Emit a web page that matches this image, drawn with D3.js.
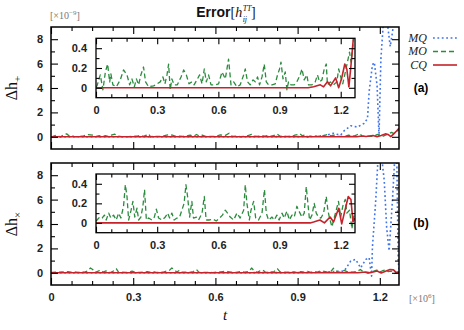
<!DOCTYPE html>
<html>
<head>
<meta charset="utf-8">
<script src="https://cdn.jsdelivr.net/npm/d3@7"></script>
<style>
  body { margin: 0; background: #fff; }
</style>
</head>
<body>
<svg id="chart" width="464" height="330"></svg>
<script>
// values, t in units of 1e6, errors in units of 1e-9
const mqTop = [[0,0],[0.5,0],[0.95,0.02],[1.0,0.1],[1.03,0.28],[1.057,0.14],[1.07,0.5],[1.094,0.9],[1.118,0.8],[1.143,1.1],[1.155,1.5],[1.161,3.7],[1.173,5.9],[1.18,6.1],[1.19,4.2],[1.197,0.06],[1.204,6.4],[1.213,9.4],[1.225,9.8],[1.238,7.4],[1.245,8.4],[1.252,9.5],[1.265,9.8],[1.27,9.5]];
const moTop = [[0,0.01],[0.005,0.02],[0.021,0.13],[0.034,-0.02],[0.046,0.16],[0.057,0.24],[0.067,0.06],[0.073,0.14],[0.083,0.03],[0.1,0.01],[0.119,0.08],[0.135,0.18],[0.152,0.13],[0.165,0.03],[0.176,0.09],[0.188,0.01],[0.198,0.09],[0.209,0.03],[0.22,0.13],[0.233,0.21],[0.243,0.06],[0.258,0.01],[0.283,0.02],[0.299,0.04],[0.315,0.06],[0.328,0.11],[0.338,0.04],[0.348,0.13],[0.356,0.24],[0.364,-0.02],[0.372,0.09],[0.383,0.03],[0.399,0.03],[0.417,0.11],[0.43,0.18],[0.443,0.13],[0.456,0.04],[0.47,0.06],[0.481,0.03],[0.495,0.08],[0.508,0.13],[0.52,0.04],[0.531,0.19],[0.541,0.06],[0.552,0.13],[0.564,0.03],[0.585,0.03],[0.601,0.04],[0.618,0.16],[0.634,0.09],[0.65,0.29],[0.662,0.03],[0.675,0.06],[0.691,0.01],[0.707,0.03],[0.724,0.13],[0.732,0.19],[0.743,0.06],[0.756,0.03],[0.77,0.08],[0.781,0.06],[0.792,0.11],[0.802,0.03],[0.814,0.11],[0.825,0.24],[0.835,0.06],[0.846,0.03],[0.863,0.03],[0.879,0.04],[0.89,0.13],[0.9,0.19],[0.907,0.26],[0.917,0.09],[0.928,0.16],[0.936,-0.02],[0.944,0.06],[0.956,0.03],[0.972,0.03],[0.985,0.06],[1.001,0.13],[1.01,0.19],[1.021,0.08],[1.034,0.13],[1.042,0.03],[1.059,0.03],[1.075,0.06],[1.086,0.13],[1.096,0.06],[1.108,0.08],[1.119,0.19],[1.129,0.24],[1.135,0.03],[1.149,0.06],[1.165,0.03],[1.181,0.06],[1.19,0.19],[1.2,0.11],[1.21,0.04],[1.23,0.23],[1.243,0.36],[1.251,0.26],[1.263,0.49],[1.27,0.55]];
const cqTop = [[0,0],[1.04,0],[1.067,0.01],[1.1,0.03],[1.116,0.01],[1.135,0.06],[1.15,0.02],[1.175,0.1],[1.19,0.0],[1.205,0.1],[1.22,0.24],[1.23,0.19],[1.24,0.01],[1.25,0.22],[1.262,0.5],[1.27,0.7]];

const mqBot = [[0,0],[0.5,0],[0.95,0.02],[1.03,0.1],[1.07,0.14],[1.094,0.97],[1.112,1.1],[1.13,0.4],[1.149,1.1],[1.161,1.24],[1.17,-0.27],[1.173,2.07],[1.185,5.9],[1.194,9.6],[1.205,9.8],[1.216,7.6],[1.225,3.7],[1.234,1.8],[1.246,5.9],[1.255,9.6],[1.262,9.4],[1.267,1.0],[1.27,0.3]];
const moBot = [[0,0.02],[0.005,0.03],[0.018,0.06],[0.03,0.05],[0.041,0.08],[0.05,0.03],[0.062,0.1],[0.073,0.05],[0.086,0.08],[0.099,0.03],[0.111,0.1],[0.122,0.05],[0.135,0.17],[0.144,0.39],[0.152,0.27],[0.16,0.03],[0.172,0.13],[0.181,0.22],[0.19,0.06],[0.201,0.15],[0.209,0.03],[0.22,0.06],[0.23,0.17],[0.238,0.34],[0.247,0.03],[0.258,0.05],[0.274,0.03],[0.286,0.06],[0.296,0.14],[0.307,0.05],[0.324,0.03],[0.34,0.06],[0.351,0.1],[0.361,0.05],[0.372,0.1],[0.383,0.03],[0.397,0.05],[0.41,0.06],[0.421,0.13],[0.432,0.2],[0.441,0.39],[0.449,0.27],[0.459,0.06],[0.47,0.22],[0.478,0.05],[0.492,0.06],[0.503,0.03],[0.52,0.1],[0.531,0.27],[0.54,0.03],[0.557,0.03],[0.573,0.04],[0.59,0.02],[0.606,0.05],[0.62,0.08],[0.634,0.13],[0.645,0.1],[0.658,0.06],[0.675,0.03],[0.691,0.1],[0.707,0.05],[0.724,0.13],[0.732,0.39],[0.74,0.2],[0.752,0.03],[0.76,0.13],[0.773,0.22],[0.783,0.05],[0.797,0.03],[0.814,0.1],[0.826,0.34],[0.835,0.1],[0.846,0.03],[0.863,0.06],[0.874,0.03],[0.887,0.08],[0.898,0.03],[0.912,0.1],[0.923,0.05],[0.936,0.12],[0.948,0.03],[0.961,0.08],[0.972,0.06],[0.985,0.17],[0.993,0.13],[1.01,0.06],[1.021,0.1],[1.031,0.37],[1.039,0.2],[1.047,0.03],[1.059,0.08],[1.07,0.2],[1.08,0.1],[1.091,0.06],[1.103,0.05],[1.116,0.1],[1.129,0.27],[1.137,0.13],[1.145,0.05],[1.157,-0.04],[1.165,0.03],[1.178,0.13],[1.189,0.22],[1.2,0.06],[1.21,0.17],[1.222,0.24],[1.23,0.1],[1.243,0.13],[1.255,-0.06],[1.263,0.06],[1.27,0.1]];
const cqBot = [[0,0],[1.05,0],[1.067,0.01],[1.098,0.03],[1.12,0],[1.148,0.06],[1.165,0.01],[1.19,0.15],[1.205,-0.01],[1.237,0.27],[1.25,0.24],[1.26,0.01],[1.27,0.05]];

const xMajor = [0, 0.3, 0.6, 0.9, 1.2];
const xMinor = [0.075, 0.15, 0.225, 0.375, 0.45, 0.525, 0.675, 0.75, 0.825, 0.975, 1.05, 1.125, 1.275];
const yMajor = [0, 2, 4, 6, 8];
const yMinor = [1, 3, 5, 7];
const inYMajor = [0, 0.2, 0.4];
const inYMinor = [0.1, 0.3];
const seriesNames = ["MQ", "MO", "CQ"];
const colors = ["#3f74ec", "#2b8c3e", "#c4232b"];

const svg = d3.select("#chart");

const xMain = d3.scaleLinear().domain([0, 1.27]).range([51, 399]);
const xIn = d3.scaleLinear().domain([0, 1.27]).range([96, 355]);
const yTop = d3.scaleLinear().domain([-1, 9]).range([149, 27]);
const yBot = d3.scaleLinear().domain([-1, 9]).range([285, 163]);
const yTopIn = d3.scaleLinear().domain([-0.1, 0.5]).range([97.7, 38.3]);
const yBotIn = d3.scaleLinear().domain([-0.1, 0.5]).range([232.7, 174]);

const styles = {
  MQ: { color: colors[0], dash: "1.8,2.6", width: 1.6 },
  MO: { color: colors[1], dash: "5,3", width: 1.3 },
  CQ: { color: colors[2], dash: null, width: 1.6 }
};

let clipN = 0;
function panel(x, y, o) {
  const [x0, x1] = x.range();
  const [y1, y0] = y.range();
  const id = "clip" + (clipN++);
  svg.append("clipPath").attr("id", id)
    .append("rect").attr("x", x0).attr("y", y0).attr("width", x1 - x0).attr("height", y1 - y0);

  const g = svg.append("g");
  if (o.inset) {
    g.append("rect").attr("x", x0).attr("y", y0).attr("width", x1 - x0).attr("height", y1 - y0)
      .attr("fill", "#fff");
  }

  const plot = g.append("g").attr("clip-path", "url(#" + id + ")");
  const line = d3.line().x(d => x(d[0])).y(d => y(d[1]));
  o.series.forEach(s => {
    const st = styles[s.name];
    plot.append("path").datum(s.data)
      .attr("d", line)
      .attr("fill", "none")
      .attr("stroke", st.color)
      .attr("stroke-width", st.width)
      .attr("stroke-dasharray", st.dash)
      .attr("stroke-linejoin", "round");
  });

  const big = o.inset ? 6 : 7, small = o.inset ? 3.5 : 4;
  const fmt = d3.format("~g");
  function addAxis(axis, tf, labels) {
    const a = g.append("g").attr("transform", tf).call(axis);
    a.select(".domain").remove();
    a.selectAll("line").attr("stroke", "#000").attr("stroke-width", 1.1);
    a.selectAll("text")
      .attr("font-family", "'Liberation Sans', Arial, sans-serif")
      .attr("font-weight", "bold")
      .attr("font-size", 11)
      .attr("fill", "#222");
    if (!labels) a.selectAll("text").remove();
  }
  // bottom / top
  addAxis(d3.axisBottom(x).tickValues(xMajor).tickSize(-big).tickPadding(o.inset ? 9 : 8).tickFormat(fmt),
    "translate(0," + y1 + ")", o.xLabels);
  addAxis(d3.axisBottom(x).tickValues(xMinor.filter(v => v < x.domain()[1])).tickSize(-small),
    "translate(0," + y1 + ")", false);
  addAxis(d3.axisTop(x).tickValues(xMajor).tickSize(-big), "translate(0," + y0 + ")", false);
  addAxis(d3.axisTop(x).tickValues(xMinor.filter(v => v < x.domain()[1])).tickSize(-small),
    "translate(0," + y0 + ")", false);
  // left / right
  addAxis(d3.axisLeft(y).tickValues(o.yMaj).tickSize(-big).tickPadding(o.inset ? 9 : 8).tickFormat(fmt),
    "translate(" + x0 + ",0)", true);
  addAxis(d3.axisLeft(y).tickValues(o.yMin).tickSize(-small), "translate(" + x0 + ",0)", false);
  addAxis(d3.axisRight(y).tickValues(o.yMaj).tickSize(-big), "translate(" + x1 + ",0)", false);
  addAxis(d3.axisRight(y).tickValues(o.yMin).tickSize(-small), "translate(" + x1 + ",0)", false);

  g.append("rect").attr("x", x0).attr("y", y0).attr("width", x1 - x0).attr("height", y1 - y0)
    .attr("fill", "none").attr("stroke", "#000").attr("stroke-width", o.inset ? 1.3 : 1.5);
}

// top panel (a)
panel(xMain, yTop, { series: [{ name: "MQ", data: mqTop }, { name: "MO", data: moTop }, { name: "CQ", data: cqTop }],
  yMaj: yMajor, yMin: yMinor, xLabels: false });
panel(xIn, yTopIn, { inset: true, series: [{ name: "MO", data: moTop }, { name: "CQ", data: cqTop }],
  yMaj: inYMajor, yMin: inYMinor, xLabels: true });

// bottom panel (b)
panel(xMain, yBot, { series: [{ name: "MQ", data: mqBot }, { name: "MO", data: moBot }, { name: "CQ", data: cqBot }],
  yMaj: yMajor, yMin: yMinor, xLabels: true });
panel(xIn, yBotIn, { inset: true, series: [{ name: "MO", data: moBot }, { name: "CQ", data: cqBot }],
  yMaj: inYMajor, yMin: inYMinor, xLabels: true });

const serif = "'Liberation Serif', 'DejaVu Serif', serif";
const sans = "'Liberation Sans', Arial, sans-serif";

// title
const title = svg.append("text").attr("x", 226).attr("y", 17).attr("text-anchor", "middle")
  .attr("font-size", 14).attr("fill", "#111");
title.append("tspan").attr("font-family", sans).attr("font-weight", "bold").text("Error");
title.append("tspan").attr("font-family", serif).text("[");
title.append("tspan").attr("font-family", serif).attr("font-style", "italic").text("h");
title.append("tspan").attr("font-family", serif).attr("font-style", "italic").attr("font-size", 8)
  .attr("dx", 0.5).attr("dy", -6).text("TT");
title.append("tspan").attr("font-family", serif).attr("font-style", "italic").attr("font-size", 8)
  .attr("dx", -8.5).attr("dy", 11).text("ij");
title.append("tspan").attr("font-family", serif).attr("dx", 4).attr("dy", -5).text("]");

// scale factors
const sy = svg.append("text").attr("x", 50).attr("y", 19).attr("font-family", serif)
  .attr("font-size", 10).attr("fill", "#777");
sy.append("tspan").text("[\u00d710");
sy.append("tspan").attr("font-size", 7).attr("dy", -4).text("\u22129");
sy.append("tspan").attr("dy", 4).text("]");

const sx = svg.append("text").attr("x", 409).attr("y", 302).attr("font-family", serif)
  .attr("font-size", 10).attr("fill", "#777");
sx.append("tspan").text("[\u00d710");
sx.append("tspan").attr("font-size", 7).attr("dy", -4).text("6");
sx.append("tspan").attr("dy", 4).text("]");

// axis titles
[{ cy: 88, sub: "+" }, { cy: 224, sub: "\u00d7" }].forEach(d => {
  const t = svg.append("text").attr("transform", "translate(17," + d.cy + ") rotate(-90)")
    .attr("text-anchor", "middle").attr("font-family", serif).attr("font-size", 16).attr("fill", "#111");
  t.append("tspan").text("\u0394h");
  t.append("tspan").attr("font-size", 11).attr("dy", 4).text(d.sub);
});
svg.append("text").attr("x", 225).attr("y", 320).attr("text-anchor", "middle")
  .attr("font-family", serif).attr("font-style", "italic").attr("font-size", 15).attr("fill", "#111").text("t");

// panel tags
svg.append("text").attr("x", 421).attr("y", 92).attr("text-anchor", "middle")
  .attr("font-family", sans).attr("font-weight", "bold").attr("font-size", 12).text("(a)");
svg.append("text").attr("x", 421).attr("y", 227).attr("text-anchor", "middle")
  .attr("font-family", sans).attr("font-weight", "bold").attr("font-size", 12).text("(b)");

// legend
const legend = svg.append("g").selectAll("g").data(seriesNames).enter().append("g")
  .attr("transform", (d, i) => "translate(0," + (41.5 + i * 13.5) + ")");
legend.append("text").attr("x", 427).attr("text-anchor", "end")
  .attr("font-family", serif).attr("font-style", "italic").attr("font-size", 12).attr("fill", "#222")
  .text(d => d);
legend.append("line").attr("x1", 433).attr("x2", 457).attr("y1", -3.5).attr("y2", -3.5)
  .attr("stroke", d => styles[d].color).attr("stroke-width", d => styles[d].width)
  .attr("stroke-dasharray", d => styles[d].dash);
</script>
</body>
</html>
